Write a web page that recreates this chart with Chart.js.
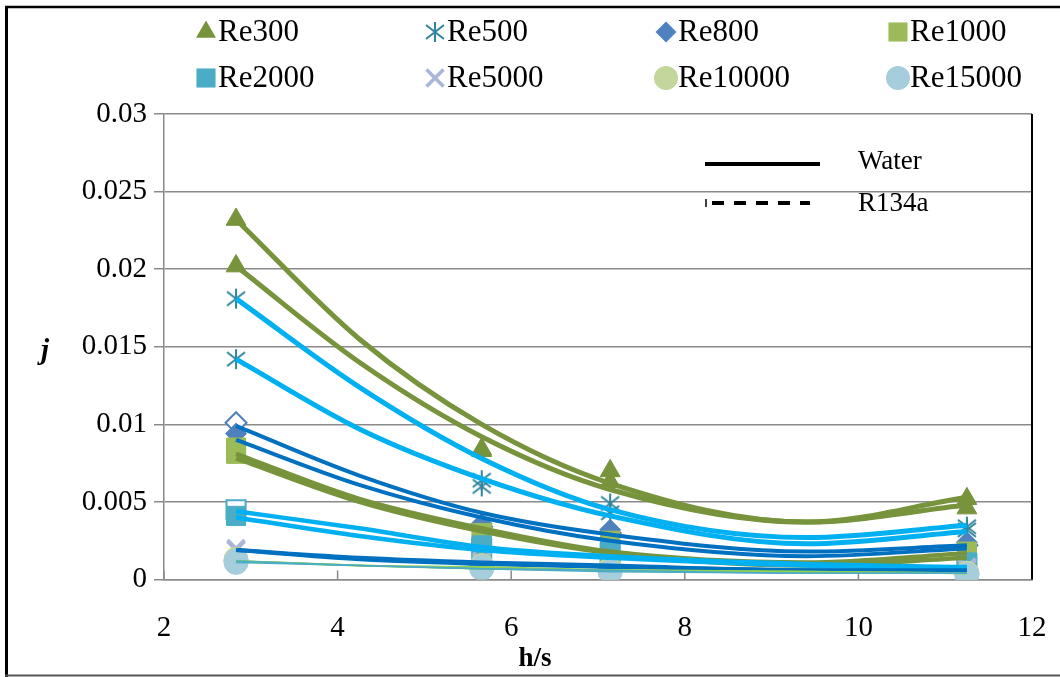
<!DOCTYPE html>
<html>
<head>
<meta charset="utf-8">
<script src="https://cdn.jsdelivr.net/npm/chart.js@4.4.1/dist/chart.umd.min.js"></script>
<style>
  html, body { margin: 0; padding: 0; background: #fff; }
  #wrap { width: 1060px; height: 677px; }
</style>
</head>
<body>
<div id="wrap"><canvas id="chart" width="1060" height="677"></canvas></div>
<script>
// Values
const hs = [2.83, 5.66, 7.14, 11.25];               // h/s of the four cases
const fitHs = [2.83, 4.25, 5.66, 7.14, 9.4, 11.25];  // where the trend curves were read
const xTicks = [2, 4, 6, 8, 10, 12];
const yTicks = [0, 0.005, 0.01, 0.015, 0.02, 0.025, 0.03];

// j factor, markers (water / R134a)
const re300Water = [0.0232, 0.0084, 0.0070, 0.0052];
const re300R134a = [0.0202, 0.0083, 0.0063, 0.0046];
const re500Water = [0.0181, 0.0064, 0.0049, 0.0034];
const re500R134a = [0.0142, 0.0060, 0.0043, 0.0032];
const re800Water = [0.0094, 0.0036, 0.0032, 0.0024];
const re800R134a = [0.0101, 0.0034, 0.0030, 0.0022];
const re1000Water = [0.0081, 0.0030, 0.0025, 0.0018];
const re1000R134a = [0.0085, 0.0027, 0.0022, 0.0016];
const re2000Water = [0.0041, 0.0022, 0.0019, 0.0011];
const re2000R134a = [0.0045, 0.0020, 0.0017, 0.0010];
const re5000Water = [0.0020, 0.0012, 0.0011, 0.0008];
const re5000R134a = [0.0019, 0.0011, 0.0010, 0.0007];
const re10000Water = [0.0013, 0.0009, 0.0007, 0.0004];
const re10000R134a = [0.0012, 0.0008, 0.0006, 0.0004];
const re15000Water = [0.0012, 0.0008, 0.0005, 0.0003];
const re15000R134a = [0.0011, 0.0007, 0.0005, 0.0003];

// trend curves, read at fitHs
const re300WaterFit = [0.0232, 0.0155, 0.0100, 0.0062, 0.0037, 0.0053];
const re300R134aFit = [0.0202, 0.0140, 0.0092, 0.0058, 0.0037, 0.0048];
const re500WaterFit = [0.0181, 0.0124, 0.0078, 0.0045, 0.0027, 0.0035];
const re500R134aFit = [0.0142, 0.0097, 0.0065, 0.0041, 0.0023, 0.0031];
const re800WaterFit = [0.0099, 0.0067, 0.0043, 0.0029, 0.0018, 0.0022];
const re800R134aFit = [0.0090, 0.0061, 0.0040, 0.0025, 0.0015, 0.0020];
const re1000WaterFit = [0.0081, 0.0052, 0.0033, 0.0018, 0.0011, 0.0017];
const re1000R134aFit = [0.0078, 0.0050, 0.0031, 0.0017, 0.0009, 0.0014];
const re2000WaterFit = [0.0044, 0.0033, 0.0021, 0.0015, 0.0010, 0.0008];
const re2000R134aFit = [0.0040, 0.0028, 0.0019, 0.0014, 0.0009, 0.0007];
const re5000WaterFit = [0.0019, 0.0014, 0.0011, 0.0009, 0.0006, 0.0006];
const re5000R134aFit = [0.0019, 0.0013, 0.0010, 0.0008, 0.0006, 0.0005];
const re10000WaterFit = [0.0012, 0.0009, 0.0008, 0.0006, 0.0005, 0.0004];
const re10000R134aFit = [0.0012, 0.0009, 0.0007, 0.0006, 0.0005, 0.0004];
const re15000WaterFit = [0.0012, 0.0009, 0.0007, 0.0006, 0.0004, 0.0004];
const re15000R134aFit = [0.0011, 0.0009, 0.0007, 0.0005, 0.0004, 0.0004];

const SERIF = "'Liberation Serif', 'Times New Roman', serif";

// six-spoke asterisk marker
function makeAsterisk(color) {
  const c = document.createElement("canvas");
  c.width = 22;
  c.height = 22;
  const g = c.getContext("2d");
  g.strokeStyle = color;
  g.lineWidth = 2;
  g.beginPath();
  g.moveTo(11, 1); g.lineTo(11, 21);
  g.moveTo(2, 4); g.lineTo(20, 18);
  g.moveTo(2, 18); g.lineTo(20, 4);
  g.stroke();
  return c;
}
const asterisk = makeAsterisk("#31859C");

const series = [
  { label: "Re300", water: re300Water, r134a: re300R134a, waterFit: re300WaterFit, r134aFit: re300R134aFit,
    marker: "triangle", radius: 11.5, color: "#77933C", line: "#77933C", width: 5 },
  { label: "Re500", water: re500Water, r134a: re500R134a, waterFit: re500WaterFit, r134aFit: re500R134aFit,
    marker: asterisk, radius: 10, color: "#31859C", line: "#00B0F0", width: 5 },
  { label: "Re800", water: re800Water, r134a: re800R134a, waterFit: re800WaterFit, r134aFit: re800R134aFit,
    marker: "rectRot", radius: 10.5, color: "#4F81BD", line: "#0070C0", width: 4, hollow: true },
  { label: "Re1000", water: re1000Water, r134a: re1000R134a, waterFit: re1000WaterFit, r134aFit: re1000R134aFit,
    marker: "rect", radius: 13.5, color: "#9BBB59", line: "#77933C", width: 4.5 },
  { label: "Re2000", water: re2000Water, r134a: re2000R134a, waterFit: re2000WaterFit, r134aFit: re2000R134aFit,
    marker: "rect", radius: 13.5, color: "#4BACC6", line: "#00B0F0", width: 4.5, hollow: true },
  { label: "Re5000", water: re5000Water, r134a: re5000R134a, waterFit: re5000WaterFit, r134aFit: re5000R134aFit,
    marker: "crossRot", radius: 12, color: "#A9B6DA", line: "#0070C0", width: 4 },
  { label: "Re10000", water: re10000Water, r134a: re10000R134a, waterFit: re10000WaterFit, r134aFit: re10000R134aFit,
    marker: "circle", radius: 12, color: "#C3D69B", line: "#92D050", width: 2 },
  { label: "Re15000", water: re15000Water, r134a: re15000R134a, waterFit: re15000WaterFit, r134aFit: re15000R134aFit,
    marker: "circle", radius: 12, color: "#A5CDDB", line: "#4BACC6", width: 1.5 },
];

const toPoints = (xs, ys) => xs.map((x, k) => ({ x: x, y: ys[k] }));

// Build datasets: markers first (later series on top, R134a under water),
// then trend curves above all markers
const datasets = [];
series.forEach((s, i) => {
  [["r134a", !!s.hollow], ["water", false]].forEach(([key, hollow], k) => {
    const isCross = s.marker === "crossRot";
    datasets.push({
      label: s.label + " " + key,
      data: toPoints(hs, s[key]),
      showLine: false,
      pointStyle: s.marker,
      pointRadius: s.radius,
      pointHoverRadius: s.radius,
      pointBackgroundColor: hollow ? "#ffffff" : s.color,
      pointBorderColor: s.color,
      pointBorderWidth: isCross ? 3.5 : (hollow ? 2 : 1),
      order: 200 - (i * 2 + k),
    });
  });
});
series.forEach((s, i) => {
  ["waterFit", "r134aFit"].forEach((key, k) => {
    datasets.push({
      label: s.label + " " + key,
      data: toPoints(fitHs, s[key]),
      showLine: true,
      pointRadius: 0,
      borderColor: s.line,
      borderWidth: s.width,
      cubicInterpolationMode: "monotone",
      fill: false,
      order: 100 - (i * 2 + k),
    });
  });
});

function drawMarker(ctx, s, x, y) {
  const r = s.radius;
  ctx.save();
  ctx.fillStyle = s.color;
  ctx.strokeStyle = s.color;
  ctx.beginPath();
  if (typeof s.marker === "object") {
    ctx.drawImage(s.marker, x - s.marker.width / 2, y - s.marker.height / 2);
  } else if (s.marker === "triangle") {
    ctx.moveTo(x, y - r);
    ctx.lineTo(x + r * 0.866, y + r * 0.5);
    ctx.lineTo(x - r * 0.866, y + r * 0.5);
    ctx.closePath();
    ctx.fill();
  } else if (s.marker === "rectRot") {
    ctx.moveTo(x, y - r); ctx.lineTo(x + r, y); ctx.lineTo(x, y + r); ctx.lineTo(x - r, y);
    ctx.closePath();
    ctx.fill();
  } else if (s.marker === "rect") {
    const h = r * Math.SQRT1_2;
    ctx.fillRect(x - h, y - h, 2 * h, 2 * h);
  } else if (s.marker === "crossRot") {
    const h = r * Math.SQRT1_2;
    ctx.lineWidth = 3.5;
    ctx.moveTo(x - h, y - h); ctx.lineTo(x + h, y + h);
    ctx.moveTo(x - h, y + h); ctx.lineTo(x + h, y - h);
    ctx.stroke();
  } else {
    ctx.arc(x, y, r, 0, Math.PI * 2);
    ctx.fill();
  }
  ctx.restore();
}

const decor = {
  id: "decor",
  beforeDatasetsDraw(chart) {
    const { ctx, chartArea: a, scales } = chart;
    ctx.save();
    // x tick marks point into the plot
    ctx.strokeStyle = "#8a8a8a";
    ctx.lineWidth = 1.5;
    xTicks.forEach((v) => {
      const px = scales.x.getPixelForValue(v);
      ctx.beginPath();
      ctx.moveTo(px, a.bottom);
      ctx.lineTo(px, a.bottom - 9);
      ctx.stroke();
    });
    ctx.strokeStyle = "#000";
    ctx.lineWidth = 2;
    ctx.beginPath();
    ctx.moveTo(a.right, a.top);
    ctx.lineTo(a.right, a.bottom);
    ctx.stroke();
    ctx.restore();
  },
  afterDraw(chart) {
    const { ctx } = chart;
    ctx.save();

    // series legend, 4 columns x 2 rows
    const colX = [206, 435, 666, 898];
    const rowY = [32, 78];
    ctx.font = "31px " + SERIF;
    ctx.fillStyle = "#000";
    ctx.textBaseline = "middle";
    ctx.textAlign = "left";
    series.forEach((s, i) => {
      const x = colX[i % 4];
      const y = rowY[Math.floor(i / 4)];
      drawMarker(ctx, s, x, y);
      ctx.fillStyle = "#000";
      ctx.fillText(s.label, x + 12, y + 1);
    });

    // fluid legend
    ctx.strokeStyle = "#000";
    ctx.lineWidth = 4;
    ctx.beginPath();
    ctx.moveTo(705, 164);
    ctx.lineTo(820, 164);
    ctx.stroke();
    ctx.lineWidth = 1.5;
    ctx.beginPath();
    ctx.moveTo(706, 199);
    ctx.lineTo(706, 207);
    ctx.stroke();
    ctx.lineWidth = 4;
    ctx.setLineDash([12, 10]);
    ctx.beginPath();
    ctx.moveTo(712, 203);
    ctx.lineTo(810, 203);
    ctx.stroke();
    ctx.setLineDash([]);
    ctx.font = "27px " + SERIF;
    ctx.fillText("Water", 858, 162);
    ctx.fillText("R134a", 858, 204);

    // axis titles
    ctx.textAlign = "center";
    ctx.font = "bold 27px " + SERIF;
    ctx.fillText("h/s", 535, 659);
    ctx.font = "italic bold 29px " + SERIF;
    ctx.fillText("j", 45, 352);

    // outer frame
    ctx.strokeStyle = "#000";
    ctx.lineWidth = 3;
    ctx.beginPath();
    ctx.moveTo(6.5, 6);
    ctx.lineTo(6.5, 677);
    ctx.stroke();
    ctx.lineWidth = 2.5;
    ctx.beginPath();
    ctx.moveTo(5, 7);
    ctx.lineTo(1060, 7);
    ctx.stroke();
    ctx.strokeStyle = "#555";
    ctx.lineWidth = 2;
    ctx.beginPath();
    ctx.moveTo(5, 675.5);
    ctx.lineTo(1060, 675.5);
    ctx.stroke();
    ctx.restore();
  },
};

const chart = new Chart(document.getElementById("chart"), {
  type: "scatter",
  data: { datasets: datasets },
  plugins: [decor],
  options: {
    responsive: false,
    devicePixelRatio: 1,
    animation: false,
    layout: { padding: { top: 114, right: 28, bottom: 0, left: 0 } },
    plugins: { legend: { display: false }, tooltip: { enabled: false } },
    scales: {
      x: {
        type: "linear",
        min: 2,
        max: 12,
        afterBuildTicks: (scale) => { scale.ticks = xTicks.map((v) => ({ value: v })); },
        ticks: { color: "#000", font: { family: SERIF, size: 29 }, padding: 31 },
        grid: { display: false, drawTicks: false },
        border: { display: true, color: "#8a8a8a", width: 1.5 },
        afterFit: (scale) => {
          scale.height = 97.5;
          scale.paddingLeft = 0;
          scale.paddingRight = 0;
        },
      },
      y: {
        type: "linear",
        min: 0,
        max: 0.03,
        afterBuildTicks: (scale) => { scale.ticks = yTicks.map((v) => ({ value: v })); },
        ticks: {
          color: "#000",
          font: { family: SERIF, size: 29 },
          padding: 7,
          callback: (v) => String(Number(v.toFixed(4))),
        },
        grid: { color: "#8a8a8a", lineWidth: 1.5, tickLength: 10 },
        border: { display: true, color: "#8a8a8a", width: 1.5 },
        afterFit: (scale) => {
          scale.width = 164;
          scale.paddingTop = 0;
          scale.paddingBottom = 0;
        },
      },
    },
  },
});
</script>
</body>
</html>
